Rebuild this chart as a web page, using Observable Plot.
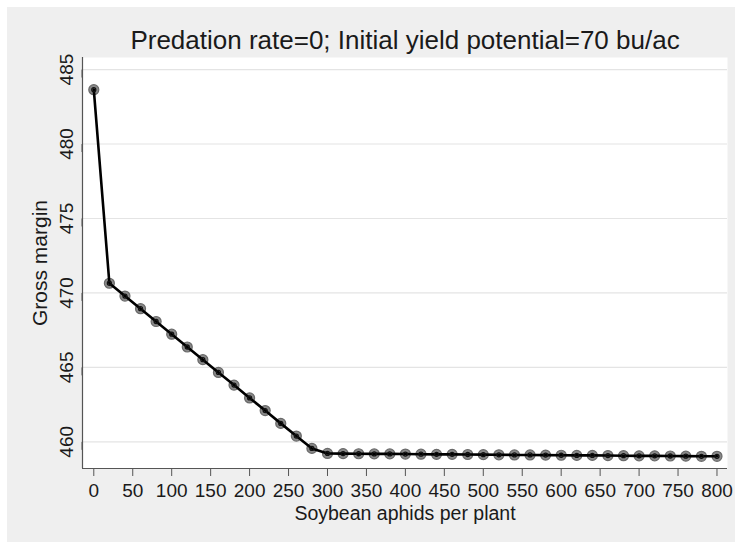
<!DOCTYPE html>
<html>
<head>
<meta charset="utf-8">
<script src="https://cdn.jsdelivr.net/npm/d3@7"></script>
<script src="https://cdn.jsdelivr.net/npm/@observablehq/plot@0.6"></script>
<style>
  html, body { margin: 0; padding: 0; background: #ffffff; }
  #wrap { position: relative; width: 735px; height: 542px; overflow: hidden; }
  #bg { position: absolute; left: 7px; top: 7px; right: 0; bottom: 0; background: #efefef; }
  #chart { position: absolute; left: 0; top: 0; }
  #chart svg { background: transparent; }
</style>
</head>
<body>
<div id="wrap"><div id="bg"></div><div id="chart"></div></div>
<script>
const titleText = "Predation rate=0; Initial yield potential=70 bu/ac";
const xLabel = "Soybean aphids per plant";
const yLabel = "Gross margin";

const aphids = [0, 20, 40, 60, 80, 100, 120, 140, 160, 180, 200, 220, 240, 260, 280,
  300, 320, 340, 360, 380, 400, 420, 440, 460, 480, 500, 520, 540, 560, 580,
  600, 620, 640, 660, 680, 700, 720, 740, 760, 780, 800];
const grossMargin = [483.65, 470.65, 469.79, 468.94, 468.08, 467.23, 466.37, 465.52, 464.66,
  463.81, 462.95, 462.10, 461.24, 460.39, 459.56,
  459.22, 459.21, 459.20, 459.19, 459.19, 459.18, 459.17, 459.16, 459.16, 459.15,
  459.14, 459.13, 459.12, 459.12, 459.11, 459.10, 459.09, 459.09, 459.08, 459.07,
  459.06, 459.06, 459.05, 459.04, 459.03, 459.03];

const xTicks = [0, 50, 100, 150, 200, 250, 300, 350, 400, 450, 500, 550, 600, 650, 700, 750, 800];
const yTicks = [460, 465, 470, 475, 480, 485];
const xDomain = [-14.5, 813.5];
const yDomain = [458.21, 485.81];

const data = aphids.map((a, i) => ({aphids: a, gm: grossMargin[i]}));

const axisColor = "#555555";
const font = "Liberation Sans, Arial, sans-serif";

const chart = Plot.plot({
  width: 735,
  height: 542,
  marginLeft: 82,
  marginRight: 8,
  marginTop: 57,
  marginBottom: 74,
  style: {fontFamily: font, background: "transparent", color: "#1a1a1a"},
  x: {domain: xDomain},
  y: {domain: yDomain},
  marks: [
    Plot.frame({fill: "white", stroke: "none"}),
    Plot.gridY(yTicks, {stroke: "#e4e4e4", strokeOpacity: 1, strokeWidth: 1.2}),
    Plot.ruleX([xDomain[0]], {stroke: axisColor, strokeWidth: 1.2}),
    Plot.ruleY([yDomain[0]], {stroke: axisColor, strokeWidth: 1.2}),
    Plot.axisX(xTicks, {
      tickSize: 8, tickPadding: 7, stroke: axisColor, fontSize: 19, fill: "#1a1a1a",
      label: null
    }),
    Plot.axisY(yTicks, {
      tickSize: 8, tickPadding: 8, stroke: axisColor, fontSize: 19, fill: "#1a1a1a",
      rotate: -90, textAnchor: "middle", label: null
    }),
    Plot.dot(data, {x: "aphids", y: "gm", r: 5, fill: "#8a8a8a", stroke: "#6a6a6a", strokeWidth: 1.2}),
    Plot.line(data, {x: "aphids", y: "gm", stroke: "black", strokeWidth: 2.6}),
    Plot.dot(data, {x: "aphids", y: "gm", r: 2, fill: "none", stroke: "#111", strokeWidth: 1.3}),
    Plot.text([titleText], {frameAnchor: "top", dy: -17, fontSize: 26, fill: "#1a1a1a", lineAnchor: "middle"}),
    Plot.text([xLabel], {frameAnchor: "bottom", dy: 45, fontSize: 19.5, fill: "#1a1a1a", lineAnchor: "middle"}),
    Plot.text([yLabel], {frameAnchor: "left", dx: -42, rotate: -90, textAnchor: "middle", fontSize: 21, fill: "#1a1a1a", lineAnchor: "middle"})
  ]
});
document.getElementById("chart").appendChild(chart);
</script>
</body>
</html>
